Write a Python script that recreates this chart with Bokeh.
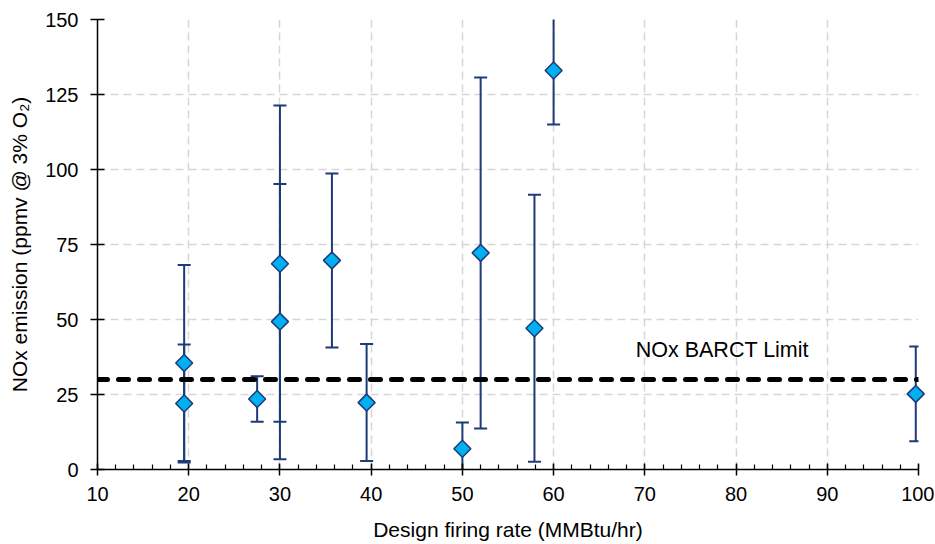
import numpy as np
from bokeh.plotting import figure
from bokeh.models import FixedTicker, Range1d, Label
from bokeh.embed import file_html
from bokeh.resources import INLINE

# ---- data ----
firing_rate = [19.5, 19.5, 27.5, 30.0, 30.0, 35.7, 39.5, 50.0, 52.0, 57.9, 60.0, 99.7]
nox_mean = [35.5, 22.0, 23.5, 68.6, 49.3, 69.7, 22.3, 6.9, 72.2, 47.1, 133.0, 25.2]
nox_err = [32.7, 19.7, 7.6, 52.7, 45.9, 29.0, 19.5, 8.8, 58.5, 44.5, 18.0, 15.8]

limit_x = [10, 100]
limit_value = 30
limit_label = "NOx BARCT Limit"
limit_label_pos = (69, 39.7)

x_ticks = [10, 20, 30, 40, 50, 60, 70, 80, 90, 100]
x_minor_ticks = list(range(10, 101, 2))
y_ticks = [0, 25, 50, 75, 100, 125, 150]

x_label = "Design firing rate (MMBtu/hr)"
y_label = "NOx emission (ppmv @ 3% O\u2082)"

NAVY = "#1F3A78"
FILL = "#00B0F0"
FONT = "Liberation Sans"

lower = [m - e for m, e in zip(nox_mean, nox_err)]
upper = [m + e for m, e in zip(nox_mean, nox_err)]

p = figure(
    output_backend="svg", toolbar_location=None,
    frame_width=821, frame_height=450,
    min_border_left=97, min_border_right=16, min_border_top=19, min_border_bottom=74,
    x_range=Range1d(10, 100), y_range=Range1d(0, 150),
)
p.outline_line_color = None
p.background_fill_color = "white"
p.border_fill_color = "white"

# grids
for g in (p.xgrid, p.ygrid):
    g.grid_line_color = "#D6D6D6"
    g.grid_line_width = 1.5
    g.grid_line_dash = "8 5"

# axes
p.xaxis.ticker = FixedTicker(ticks=x_ticks, minor_ticks=x_minor_ticks)
p.yaxis.ticker = FixedTicker(ticks=y_ticks)
for ax in (p.xaxis, p.yaxis):
    ax.axis_line_color = "black"
    ax.axis_line_width = 1.5
    ax.major_tick_line_color = "black"
    ax.major_tick_line_width = 1.5
    ax.major_label_text_font = FONT
    ax.major_label_text_font_size = "20px"
    ax.major_label_text_color = "black"
    ax.axis_label_text_font = FONT
    ax.axis_label_text_font_size = "21px"
    ax.axis_label_text_font_style = "normal"
    ax.axis_label_text_color = "black"
p.xaxis.major_tick_in = 6
p.xaxis.major_tick_out = 6
p.yaxis.major_tick_in = 7
p.yaxis.major_tick_out = 7
p.xaxis.minor_tick_line_color = "black"
p.xaxis.minor_tick_line_width = 1.2
p.xaxis.minor_tick_in = 5
p.xaxis.minor_tick_out = 0
p.yaxis.minor_tick_line_color = None
p.xaxis.major_label_standoff = 11
p.yaxis.major_label_standoff = 12
p.xaxis.axis_label = x_label
p.yaxis.axis_label = y_label
p.xaxis.axis_label_standoff = 14
p.yaxis.axis_label_standoff = 11

# error bars
p.segment(x0=firing_rate, y0=lower, x1=firing_rate, y1=upper,
          line_color=NAVY, line_width=2)
p.scatter(x=firing_rate + firing_rate, y=upper + lower, marker="dash", size=13,
          line_color=NAVY, line_width=2)

# limit line
p.line(x=limit_x, y=[limit_value] * len(limit_x), line_color="black",
       line_width=5, line_dash="10 11", line_cap="round")

# points (overlay level so the marker at the right edge is not cut off)
p.scatter(x=firing_rate, y=nox_mean, marker="square", angle=np.pi / 4, size=12,
          fill_color=FILL, line_color=NAVY, line_width=1.5, level="overlay")

p.add_layout(Label(x=limit_label_pos[0], y=limit_label_pos[1], text=limit_label,
                   text_font=FONT, text_font_size="21.5px", text_baseline="middle",
                   text_color="black"))

open("out.html", "w").write(file_html(p, INLINE))
